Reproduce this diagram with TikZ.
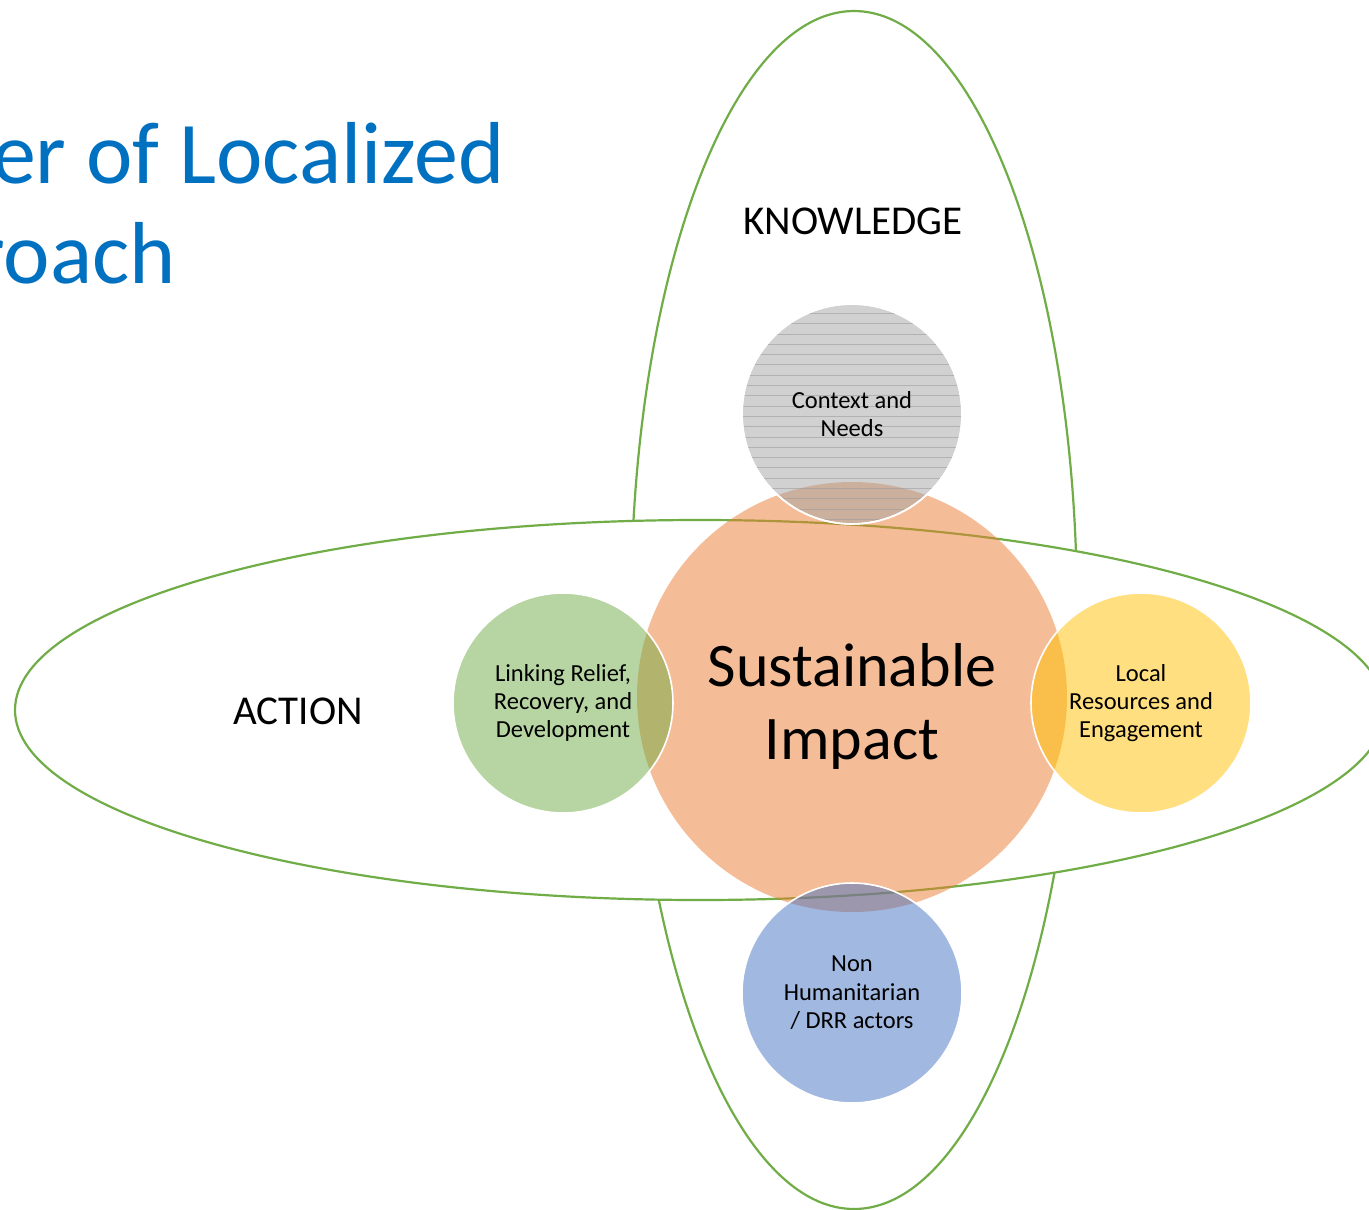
\documentclass[tikz,border=0pt]{standalone}
\usepackage{fontspec}
\setmainfont{Carlito}
\definecolor{ellgreen}{HTML}{70AD47}
\definecolor{titleblue}{HTML}{0070C0}
\definecolor{corange}{HTML}{ED7D31}
\definecolor{cgray}{HTML}{A5A5A5}
\definecolor{cgreen}{HTML}{70AD47}
\definecolor{cyellow}{HTML}{FFC000}
\definecolor{cblue}{HTML}{4472C4}
\definecolor{hatch}{HTML}{9A9A9A}
\begin{document}
\begin{tikzpicture}[x=1pt,y=-1pt,
  ell/.style={draw=ellgreen,line width=2.2pt,fill=white},
  bubble/.style={circle,draw=white,line width=1.6pt,fill opacity=0.5,text opacity=1,
    minimum size=220pt,inner sep=0pt,align=center,text=black,
    font=\fontsize{24.5}{28.4}\selectfont},
  smalltext/.style={inner sep=0pt,align=center,text=black,font=\fontsize{24.5}{28.4}\selectfont},
  biglabel/.style={inner sep=0pt,font=\fontsize{41}{48}\selectfont,text=black},
  titletext/.style={inner sep=0pt,anchor=base east,text=titleblue,font=\fontsize{88}{100}\selectfont},
  hatchline/.style={draw=hatch,line width=0.7pt,opacity=0.55}]
\clip (0,0) rectangle (1369,1210);
\fill[white] (0,0) rectangle (1369,1210);
% title
\node[titletext] (t1) at (505,183) {er of Localized};
\node[titletext] (t2) at (176,283) {roach};
% ellipses
\draw[ell] (854,610) ellipse [x radius=223pt, y radius=599pt];
\draw[ell] (700,710) ellipse [x radius=685pt, y radius=190pt];
% labels
\node[biglabel] (know) at (853,221) {KNOWLEDGE};
\node[biglabel] (act) at (298,711) {ACTION};
% central circle
\node[circle,fill=corange,fill opacity=0.5,minimum size=430pt,inner sep=0pt] (imp) at (852,697) {};
\node[inner sep=0pt,align=center,font=\fontsize{62}{73}\selectfont] (imptxt) at (852,706) {Sustainable\\Impact};
% top circle
\node[bubble,fill=cgray] (ctx) at (852,414) {};
\begin{scope}
\clip (852,414) circle [radius=109pt];
\foreach \yy in {0,...,21} {
  \draw[hatchline] (730,313.3+10.3*\yy) -- (980,313.3+10.3*\yy);
}
\end{scope}
\node[bubble,fill=none] (ctxrim) at (852,414) {};
\node[smalltext] (ctxt) at (852,414) {Context and\\Needs};
% side circles
\node[bubble,fill=cgreen] (lrr) at (563,703) {Linking Relief,\\Recovery, and\\Development};
\node[bubble,fill=cyellow] (loc) at (1141,703) {Local\\Resources and\\Engagement};
\node[bubble,fill=cblue] (non) at (852,993) {Non\\Humanitarian\\/ DRR actors};
\end{tikzpicture}
\end{document}
